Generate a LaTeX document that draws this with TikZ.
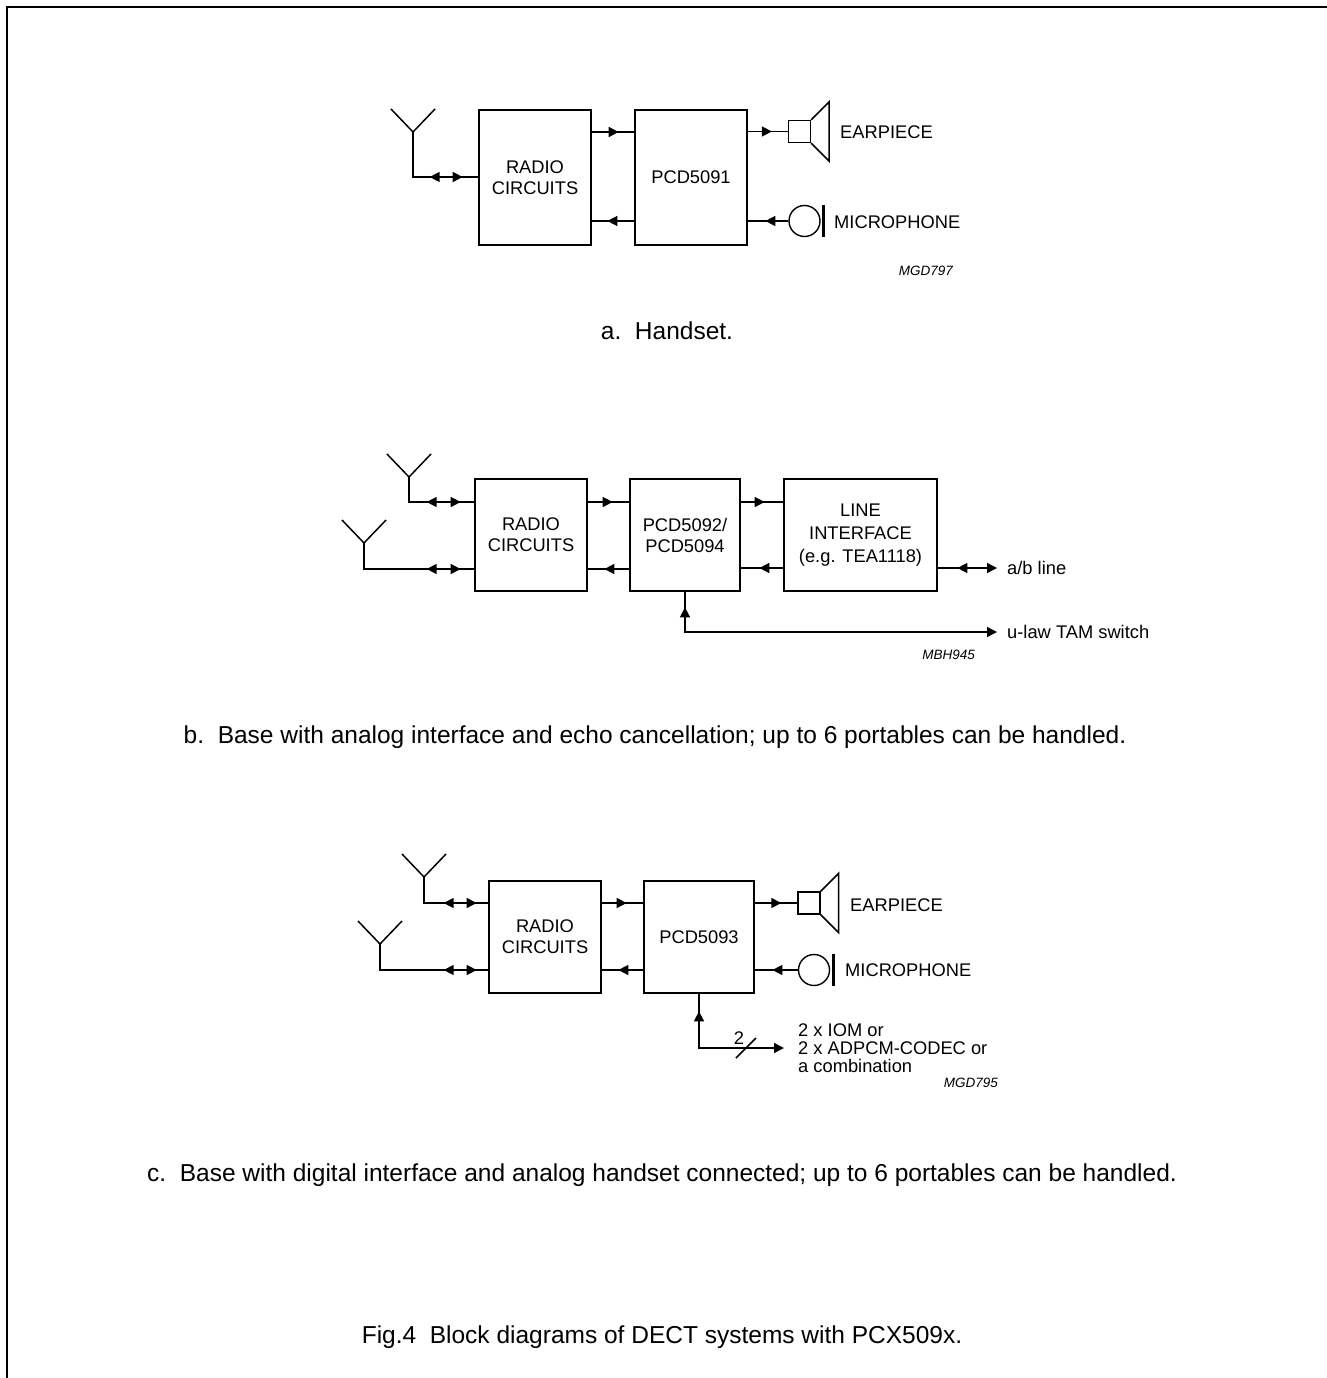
\documentclass[tikz,border=0pt]{standalone}
\usepackage{fontspec}
\setmainfont{Liberation Sans}
\usetikzlibrary{arrows.meta,decorations.markings}
\tikzset{
  blk/.style={draw, line width=2.7pt, inner sep=0pt, align=center, font=\fontsize{18.3}{21}\selectfont},
  wire/.style={line width=1.5pt},
  lbl/.style={inner sep=0pt, anchor=west, font=\fontsize{18.3}{21}\selectfont},
  refid/.style={inner sep=0pt, anchor=east, font=\fontsize{13.5}{16}\selectfont\itshape},
  capt/.style={inner sep=0pt, font=\fontsize{24.5}{28}\selectfont},
  tipfwd/.style={postaction={decorate,decoration={markings,mark=at position #1 with {\arrow{Triangle[length=10pt,width=10pt]}}}}},
  tipbwd/.style={postaction={decorate,decoration={markings,mark=at position #1 with {\arrowreversed{Triangle[length=10pt,width=10pt]}}}}},
  endtip/.style={-{Triangle[length=10pt,width=10pt]}},
  spk/.style={draw, line width=1.4pt, minimum size=22pt, inner sep=0pt},
  mic/.style={draw, circle, line width=1.4pt, minimum size=31pt, inner sep=0pt},
  antenna/.style={line width=1.5pt},
}
\begin{document}
\begin{tikzpicture}[x=1pt,y=-1pt]
\useasboundingbox (0,0) rectangle (1327,1378);
\draw[line width=2pt] (7,1378) -- (7,7) -- (1327,7);

% ---------- part a ----------
\node[blk, minimum width=112pt, minimum height=135pt] (ra) at (535,177.5) {RADIO\\CIRCUITS};
\node[blk, minimum width=112pt, minimum height=135pt] (pa) at (691,177.5) {PCD5091};
\coordinate (anta) at (413,132);
\draw[antenna] ([shift={(-22,-23)}]anta) -- (anta) -- ([shift={(22,-23)}]anta);
\draw[wire, tipfwd=48pt, tipbwd=15pt] (ra.west |- 0,177) -| (anta);
\draw[wire, tipfwd=-15pt] (ra.east |- 0,132) -- (pa.west |- 0,132);
\draw[wire, tipfwd=-15pt] (pa.west |- 0,221) -- (ra.east |- 0,221);
\node[spk] (spa) at (799.5,131.5) {};
\draw[wire, line join=miter] (spa.north east) -- ++(18,-18) -- ([shift={(18,18)}]spa.south east) -- (spa.south east);
\draw[wire, tipfwd=-16pt] (pa.east |- spa.west) -- (spa.west);
\node[lbl] (eara) at (840,132) {EARPIECE};
\node[mic] (mca) at (804.5,221) {};
\draw[line width=3.2pt] ([shift={(3,-16)}]mca.east) -- ([shift={(3,16)}]mca.east);
\draw[wire, tipfwd=-17pt] (mca.west) -- (pa.east |- mca.west);
\node[lbl] (mica) at (834,222) {MICROPHONE};
\node[refid] (ida) at (953,271) {MGD797};
\node[capt] (capa) at (667,331) {a.\ \ Handset.};

% ---------- part b ----------
\node[blk, minimum width=112pt, minimum height=112pt] (rb) at (531,535) {RADIO\\CIRCUITS};
\node[blk, minimum width=110pt, minimum height=112pt] (pb) at (685,535) {PCD5092/\\PCD5094};
\node[blk, minimum width=153pt, minimum height=112pt, font=\fontsize{18.3}{23}\selectfont] (lb) at (860.5,535) {LINE\\INTERFACE\\(e.g. TEA1118)};
\coordinate (antb1) at (409,477);
\coordinate (antb2) at (364,543);
\draw[antenna] ([shift={(-22,-23)}]antb1) -- (antb1) -- ([shift={(22,-23)}]antb1);
\draw[antenna] ([shift={(-22,-23)}]antb2) -- (antb2) -- ([shift={(22,-23)}]antb2);
\draw[wire, tipfwd=47pt, tipbwd=13pt] (rb.west |- 0,502) -| (antb1);
\draw[wire, tipfwd=47pt, tipbwd=13pt] (rb.west |- 0,569) -| (antb2);
\draw[wire, tipfwd=-16pt] (rb.east |- 0,502) -- (pb.west |- 0,502);
\draw[wire, tipfwd=-16pt] (pb.west |- 0,569) -- (rb.east |- 0,569);
\draw[wire, tipfwd=-18pt] (pb.east |- 0,502) -- (lb.west |- 0,502);
\draw[wire, tipfwd=-18pt] (lb.west |- 0,568) -- (pb.east |- 0,568);
\coordinate (abtip) at (997,568);
\draw[wire, endtip, tipbwd=19pt] (lb.east |- abtip) -- (abtip);
\node[lbl] (abl) at (1007,568) {a/b line};
\coordinate (ulawtip) at (997,632);
\draw[wire, endtip, tipbwd=15pt] (pb.south) |- (ulawtip);
\node[lbl] (ulaw) at (1007,632) {u-law TAM switch};
\node[refid] (idb) at (975,655) {MBH945};
\node[capt] (capb) at (655,737) {b.\ \ Base with analog interface and echo cancellation; up to 6 portables can be handled.};

% ---------- part c ----------
\node[blk, minimum width=112pt, minimum height=112pt] (rc) at (545,937) {RADIO\\CIRCUITS};
\node[blk, minimum width=110pt, minimum height=112pt] (pc) at (699,937) {PCD5093};
\coordinate (antc1) at (424,877);
\coordinate (antc2) at (380,944);
\draw[antenna] ([shift={(-22,-23)}]antc1) -- (antc1) -- ([shift={(22,-23)}]antc1);
\draw[antenna] ([shift={(-22,-23)}]antc2) -- (antc2) -- ([shift={(22,-23)}]antc2);
\draw[wire, tipfwd=44pt, tipbwd=11pt] (rc.west |- 0,903) -| (antc1);
\draw[wire, tipfwd=44pt, tipbwd=11pt] (rc.west |- 0,970) -| (antc2);
\draw[wire, tipfwd=-16pt] (rc.east |- 0,903) -- (pc.west |- 0,903);
\draw[wire, tipfwd=-16pt] (pc.west |- 0,970) -- (rc.east |- 0,970);
\node[spk] (spc) at (809,903) {};
\draw[wire, line join=miter] (spc.north east) -- ++(18,-18) -- ([shift={(18,18)}]spc.south east) -- (spc.south east);
\draw[wire, tipfwd=-16pt] (pc.east |- spc.west) -- (spc.west);
\node[lbl] (earc) at (850,905) {EARPIECE};
\node[mic] (mcc) at (814,970) {};
\draw[line width=3.2pt] ([shift={(3,-16)}]mcc.east) -- ([shift={(3,16)}]mcc.east);
\draw[wire, tipfwd=-17pt] (mcc.west) -- (pc.east |- mcc.west);
\node[lbl] (micc) at (845,970) {MICROPHONE};
\coordinate (digtip) at (784,1048);
\draw[wire, endtip, tipbwd=17pt] (pc.south) |- (digtip);
\draw[wire] (736,1058) -- (756,1038);
\node[inner sep=0pt, font=\fontsize{18.3}{21}\selectfont] (two) at (739,1038) {2};
\node[lbl, align=left, font=\fontsize{18.3}{18}\selectfont] (digl) at (798,1048) {2 x IOM or\\2 x ADPCM-CODEC or\\a combination};
\node[refid] (idc) at (998,1083) {MGD795};
\node[capt] (capc) at (662,1175) {c.\ \ Base with digital interface and analog handset connected; up to 6 portables can be handled.};

\node[capt] (fig) at (662,1337) {Fig.4\ \ Block diagrams of DECT systems with PCX509x.};
\end{tikzpicture}
\end{document}
